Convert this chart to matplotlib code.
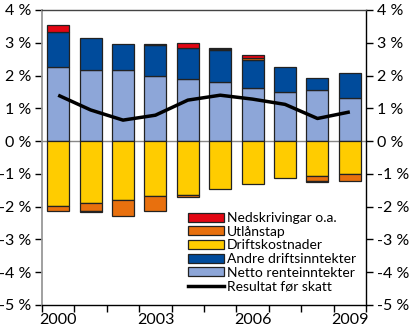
import matplotlib
matplotlib.use("Agg")
import matplotlib.pyplot as plt
import numpy as np
from matplotlib.patches import Patch
from matplotlib.lines import Line2D

plt.rcParams['font.family'] = ['Lato', 'DejaVu Sans']

years = [2000, 2001, 2002, 2003, 2004, 2005, 2006, 2007, 2008, 2009]
netto = [2.26, 2.18, 2.18, 1.98, 1.90, 1.79, 1.63, 1.51, 1.55, 1.31]
andre = [1.07, 0.98, 0.77, 0.95, 0.95, 0.98, 0.83, 0.76, 0.39, 0.76]
drift = [-1.97, -1.90, -1.81, -1.68, -1.64, -1.46, -1.30, -1.14, -1.06, -0.99]
utlan = [-0.15, -0.22, -0.48, -0.44, -0.08, 0.05, 0.07, 0.0, -0.16, -0.22]
ned = [0.21, -0.05, 0.0, 0.04, 0.13, 0.03, 0.09, 0.0, -0.04, 0.0]
resultat = [1.40, 0.95, 0.64, 0.79, 1.25, 1.40, 1.28, 1.12, 0.69, 0.89]

c_netto = '#8DA6D8'
c_andre = '#004B9B'
c_drift = '#FFCC00'
c_utlan = '#E8700E'
c_ned = '#E30613'

fig = plt.figure(figsize=(4.09, 3.35), dpi=100)
ax = fig.add_axes([0.1027, 0.0896, 0.7923, 0.8806])

x = np.arange(len(years))
w = 0.68
pos = np.zeros(len(years))
neg = np.zeros(len(years))
series = [(netto, c_netto), (andre, c_andre), (drift, c_drift), (utlan, c_utlan), (ned, c_ned)]
for vals, col in series:
    v = np.array(vals, dtype=float)
    bottoms = np.where(v >= 0, pos, neg)
    mask = v != 0
    ax.bar(x[mask], v[mask], w, bottom=bottoms[mask], color=col,
           edgecolor='#222222', linewidth=0.9, zorder=2)
    pos = np.where(v >= 0, pos + v, pos)
    neg = np.where(v < 0, neg + v, neg)

ax.axhline(0, color='#888888', linewidth=1.0, zorder=1)
ax.plot(x, resultat, color='black', linewidth=2.5, zorder=3, solid_capstyle='butt')

ax.set_xlim(-0.5, 9.5)
ax.set_ylim(-5, 4)
yt = np.arange(-5, 5)
ax.set_yticks(yt)
ax.set_yticklabels([f"{v} %" for v in yt])
ax.set_xticks(np.arange(-0.5, 10, 1))
ax.set_xticklabels([])
ax.set_xticks([0, 3, 6, 9], minor=True)
ax.set_xticklabels([str(years[i]) for i in [0, 3, 6, 9]], minor=True)
ax.tick_params(axis='x', which='major', direction='out', length=5, width=1)
ax.tick_params(axis='x', which='minor', length=0, labelsize=11.5, pad=6)
ax.tick_params(axis='y', direction='out', length=5, width=1, labelsize=11.5,
               left=True, right=True, labelleft=True, labelright=True, pad=3)

ax.spines['left'].set_color('#999999')
ax.spines['left'].set_linewidth(1.3)
ax.spines['top'].set_color('#444444')
ax.spines['top'].set_linewidth(1.0)
ax.spines['right'].set_color('black')
ax.spines['right'].set_linewidth(1.0)
ax.spines['bottom'].set_color('black')
ax.spines['bottom'].set_linewidth(1.0)

handles = [
    Patch(facecolor=c_ned, edgecolor='#222222', linewidth=0.9, label='Nedskrivingar o.a.'),
    Patch(facecolor=c_utlan, edgecolor='#222222', linewidth=0.9, label='Utlånstap'),
    Patch(facecolor=c_drift, edgecolor='#222222', linewidth=0.9, label='Driftskostnader'),
    Patch(facecolor=c_andre, edgecolor='#222222', linewidth=0.9, label='Andre driftsinntekter'),
    Patch(facecolor=c_netto, edgecolor='#222222', linewidth=0.9, label='Netto renteinntekter'),
    Line2D([0], [0], color='black', linewidth=2.5, label='Resultat før skatt'),
]
leg = ax.legend(handles=handles, loc='upper left', bbox_to_anchor=(0.45, 0.315),
                frameon=False, fontsize=10, handlelength=2.6, handleheight=0.6,
                handletextpad=0.2, labelspacing=0.12, borderaxespad=0, borderpad=0)

fig.savefig('out.png', dpi=100)
